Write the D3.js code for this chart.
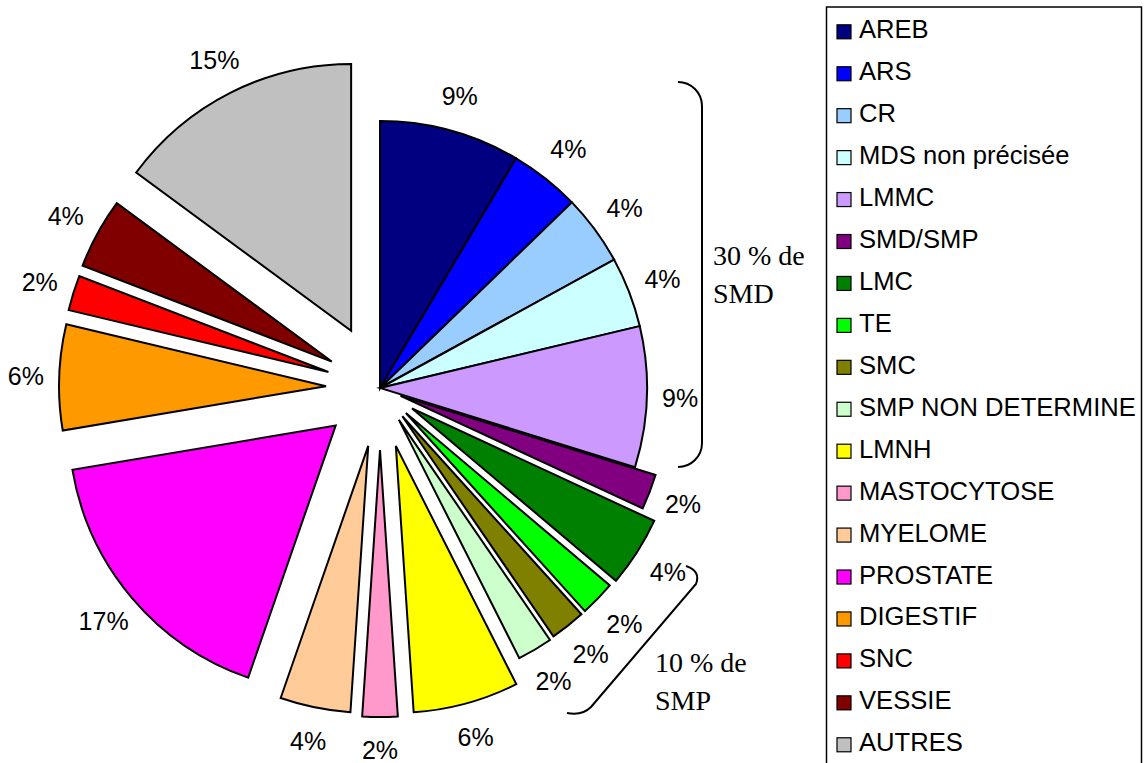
<!DOCTYPE html>
<html><head><meta charset="utf-8">
<script src="https://cdn.jsdelivr.net/npm/d3@7"></script>
<style>body{margin:0;background:#fff}svg{display:block}</style>
</head><body>
<svg id="c" width="1145" height="763"></svg>
<script>
const categories = ["AREB","ARS","CR","MDS non précisée","LMMC","SMD/SMP","LMC","TE","SMC","SMP NON DETERMINE","LMNH","MASTOCYTOSE","MYELOME","PROSTATE","DIGESTIF","SNC","VESSIE","AUTRES"];
const counts = [4,2,2,2,4,1,2,1,1,1,3,1,2,8,3,1,2,7];
const colors = ["#000080","#0000FF","#99CCFF","#CCFFFF","#CC99FF","#800080","#008000","#00FF00","#808000","#CCFFCC","#FFFF00","#FF99CC","#FFCC99","#FF00FF","#FF9900","#FF0000","#800000","#C0C0C0"];
const explode = [0,0,0,0,0,22,38,36,36,37,60,62,59,58,54,54,55,64];
const groupNotes = [
  {lines:["30 % de","SMD"], x:713, y:265},
  {lines:["10 % de","SMP"], x:655, y:672}
];

const svg = d3.select("#c");
const cx = 380, cy = 388, R = 267, labelDist = 300;
const total = d3.sum(counts);
const data = categories.map((c,i)=>({name:c, value:counts[i], color:colors[i], ex:explode[i]}));
const pie = d3.pie().value(d=>d.value).sort(null).startAngle(0).endAngle(2*Math.PI);
const arc = d3.arc().innerRadius(0).outerRadius(R);
const arcs = pie(data);

const g = svg.append("g").attr("transform",`translate(${cx},${cy})`);
const sl = g.selectAll("g.s").data(arcs).join("g").attr("class","s")
  .attr("transform", d=>{const a=(d.startAngle+d.endAngle)/2; return `translate(${d.data.ex*Math.sin(a)},${-d.data.ex*Math.cos(a)})`;});
sl.append("path").attr("d",arc).attr("fill",d=>d.data.color)
  .attr("stroke","#000").attr("stroke-width",2).attr("stroke-linejoin","miter");
sl.append("text")
  .attr("x", d=>{const a=(d.startAngle+d.endAngle)/2; return (labelDist+4*Math.abs(Math.sin(2*a)))*Math.sin(a);})
  .attr("y", d=>{const a=(d.startAngle+d.endAngle)/2; return -(labelDist+4*Math.abs(Math.sin(2*a)))*Math.cos(a);})
  .attr("text-anchor","middle").attr("dy","0.35em")
  .attr("font-family","'Liberation Sans', Arial, sans-serif").attr("font-size",25).attr("fill","#000")
  .text(d=>Math.round(d.data.value/total*100)+"%");

// brackets
svg.append("path")
  .attr("d","M678,82 A24,24 0 0 1 702,106 L702,443 A24,24 0 0 1 678,467")
  .attr("fill","none").attr("stroke","#000").attr("stroke-width",2);
svg.append("path")
  .attr("d","M686,566 Q701,571 696,584 L591,707 Q582,716 567,713")
  .attr("fill","none").attr("stroke","#000").attr("stroke-width",2);
groupNotes.forEach(n=>{
  n.lines.forEach((t,i)=>{
    svg.append("text").attr("x",n.x).attr("y",n.y+i*37.5)
      .attr("font-family","'Liberation Serif','Times New Roman',serif").attr("font-size",28)
      .attr("fill","#000").text(t);
  });
});

// legend
svg.append("rect").attr("x",826.5).attr("y",7).attr("width",315).attr("height",770)
  .attr("fill","#fff").attr("stroke","#000").attr("stroke-width",1.5);
const lg = svg.selectAll("g.l").data(data).join("g").attr("class","l")
  .attr("transform",(d,i)=>`translate(0,${38.3+i*41.94})`);
lg.append("rect").attr("x",837).attr("y",-13.5).attr("width",14).attr("height",14)
  .attr("fill",d=>d.color).attr("stroke","#000").attr("stroke-width",1.2);
lg.append("text").attr("x",859).attr("y",0)
  .attr("font-family","'Liberation Sans', Arial, sans-serif").attr("font-size",25.6).attr("fill","#000")
  .text(d=>d.name);
</script>
</body></html>
